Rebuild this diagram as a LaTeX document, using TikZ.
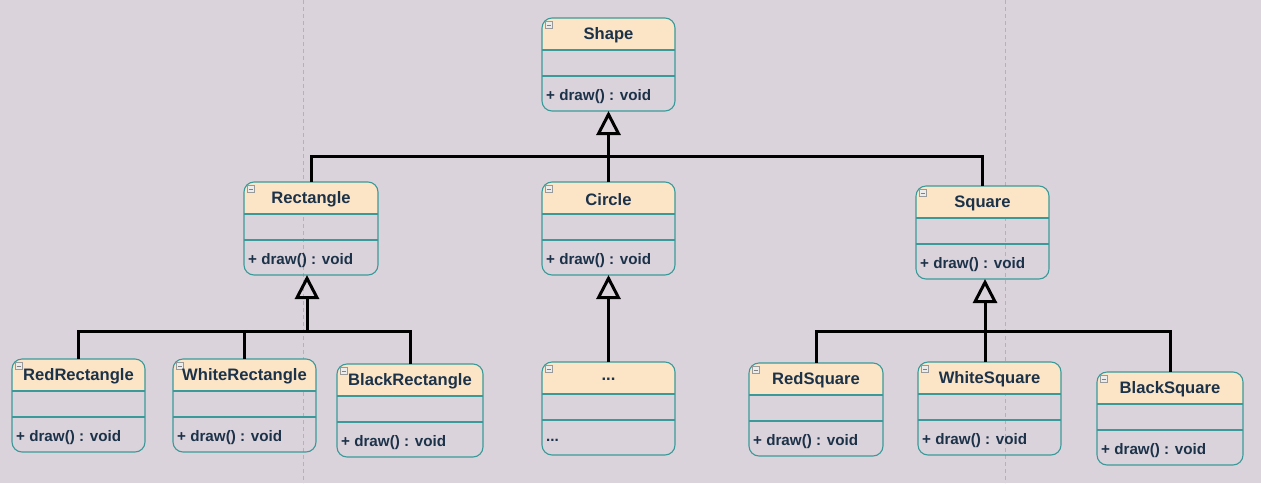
\documentclass[tikz,border=0pt]{standalone}
\usepackage{fontspec}
\setmainfont{Liberation Sans}
\usetikzlibrary{arrows.meta}
\definecolor{bgc}{HTML}{DBD3DB}
\definecolor{headc}{HTML}{FCE5C6}
\definecolor{tealc}{HTML}{3A9A9A}
\definecolor{txtc}{HTML}{1C3249}
\definecolor{pagec}{HTML}{B8AFB8}
\tikzset{
  classbox/.style={inner sep=0pt, outer sep=0pt, minimum height=93pt},
  classborder/.style={draw=tealc, line width=1.1pt, rounded corners=10pt},
  classline/.style={draw=tealc, line width=1.1pt},
  titlefont/.style={inner sep=0pt, text=txtc, font=\bfseries\fontsize{16.6}{19}\selectfont},
  methfont/.style={inner sep=0pt, text=txtc, font=\bfseries\fontsize{15.2}{17}\selectfont},
  iconbox/.style={draw=gray!80, fill=gray!15, line width=0.6pt, minimum size=7pt, inner sep=0pt},
  conn/.style={draw=black, line width=3pt},
  inh/.style={draw=black, line width=3pt, -{Triangle[open, length=24pt, width=24pt, line width=3pt]}},
  pagebreak/.style={draw=pagec, line width=0.6pt, dash pattern=on 4pt off 3pt},
}
\newcommand\umlclass[6]{%
  \node[classbox, minimum width=#4pt, anchor=north west] (#1) at (#2,#3) {};
  \begin{scope}
    \clip[rounded corners=10pt] (#1.south west) rectangle (#1.north east);
    \fill[headc] (#1.north west) rectangle ([yshift=-32pt]#1.north east);
  \end{scope}
  \draw[classline] ([yshift=-32pt]#1.north west) -- ([yshift=-32pt]#1.north east);
  \draw[classline] ([yshift=-58pt]#1.north west) -- ([yshift=-58pt]#1.north east);
  \draw[classborder] (#1.south west) rectangle (#1.north east);
  \node[iconbox] (#1-i) at ([xshift=6.5pt,yshift=-7pt]#1.north west) {};
  \draw[gray, line width=0.8pt] ([xshift=-2pt]#1-i.center) -- ([xshift=2pt]#1-i.center);
  \node[titlefont] (#1-t) at ([yshift=-17.5pt]#1.north) {#5};
  \node[methfont, anchor=west] (#1-m) at ([xshift=4pt,yshift=-78.5pt]#1.north west) {#6};
}
\begin{document}
\begin{tikzpicture}[x=1pt,y=-1pt]
\fill[bgc] (0,0) rectangle (1261,483);
\useasboundingbox (0,0) rectangle (1261,483);
\draw[pagebreak] (303,0) -- (303,483);
\draw[pagebreak] (1005,0) -- (1005,483);

\umlclass{shape}{542}{18}{133}{Shape}{+ draw() : void}
\umlclass{rect}{244}{182}{134}{Rectangle}{+ draw() : void}
\umlclass{circ}{542}{182}{133}{Circle}{+ draw() : void}
\umlclass{sq}{916}{186}{133}{Square}{+ draw() : void}
\umlclass{redrect}{12}{359}{133}{RedRectangle}{+ draw() : void}
\umlclass{whiterect}{173}{359}{143}{WhiteRectangle}{+ draw() : void}
\umlclass{blackrect}{337}{364}{146}{BlackRectangle}{+ draw() : void}
\umlclass{dots}{542}{362}{133}{...}{...}
\umlclass{redsq}{749}{363}{134}{RedSquare}{+ draw() : void}
\umlclass{whitesq}{918}{362}{143}{WhiteSquare}{+ draw() : void}
\umlclass{blacksq}{1097}{372}{146}{BlackSquare}{+ draw() : void}

% Shape hierarchy
\coordinate (shapebar) at (608.5,156);
\draw[conn] (rect.north) |- (shapebar);
\draw[conn] (sq.north) |- (shapebar);
\draw[conn] (circ.north) -- (shapebar);
\draw[inh] (shapebar) -- (shape.south);

% Rectangle hierarchy
\coordinate (rectbar) at (307,331);
\draw[conn] (redrect.north) |- (rectbar);
\draw[conn] (blackrect.north) |- (rectbar);
\draw[conn] (whiterect.north) |- (rectbar);
\draw[inh] (rectbar) -- (rectbar |- rect.south);

% Circle hierarchy
\draw[inh] (dots.north) -- (circ.south);

% Square hierarchy
\coordinate (sqbar) at (985,331);
\draw[conn] (redsq.north) |- (sqbar);
\draw[conn] (blacksq.north) |- (sqbar);
\draw[conn] (sqbar |- whitesq.north) -- (sqbar);
\draw[inh] (sqbar) -- (sqbar |- sq.south);
\end{tikzpicture}
\end{document}
